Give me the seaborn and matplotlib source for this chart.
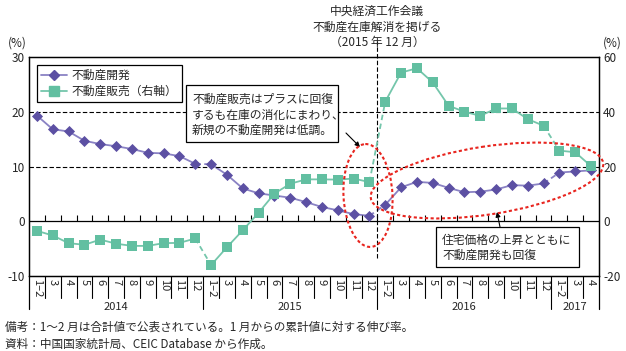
import numpy as np
import pandas as pd
import matplotlib
matplotlib.use("Agg")
import matplotlib.pyplot as plt
import matplotlib.transforms as mtransforms
from matplotlib.patches import Ellipse, Rectangle
from matplotlib.lines import Line2D
import seaborn as sns

# データ
years = ["2014", "2015", "2016", "2017"]
months_full = ["1–2", "3", "4", "5", "6", "7", "8", "9", "10", "11", "12"]
months_2017 = ["1–2", "3", "4"]
labels = months_full * 3 + months_2017
year_of = ["2014"] * 11 + ["2015"] * 11 + ["2016"] * 11 + ["2017"] * 3

dev = [19.3, 16.8, 16.4, 14.7, 14.1, 13.7, 13.2, 12.5, 12.4, 11.9, 10.5,
       10.4, 8.5, 6.0, 5.1, 4.7, 4.3, 3.5, 2.6, 2.0, 1.3, 1.0,
       3.0, 6.2, 7.2, 7.0, 6.1, 5.3, 5.4, 5.8, 6.6, 6.5, 6.9,
       8.9, 9.1, 9.3]
sales = [-3.5, -5.2, -8.0, -8.6, -6.7, -8.2, -9.0, -9.0, -8.0, -7.9, -6.3,
         -16.0, -9.5, -3.3, 3.1, 10.1, 13.7, 15.3, 15.3, 15.2, 15.6, 14.3,
         43.7, 54.3, 55.9, 50.7, 42.2, 40.0, 38.5, 41.2, 41.2, 37.3, 34.9,
         25.8, 25.2, 20.1]

df = pd.DataFrame({"x": np.arange(len(labels)), "year": year_of,
                   "dev": dev, "sales": sales})

# スタイル
sns.set_theme(style="white")
plt.rcParams["font.family"] = ["Noto Sans CJK JP", "DejaVu Sans"]
plt.rcParams["axes.unicode_minus"] = False

W, H = 626, 351
fig = plt.figure(figsize=(W / 100, H / 100), dpi=100)
ax = fig.add_axes([29 / W, 75 / H, 570 / W, 219 / H])
ax2 = ax.twinx()

c_dev_line = "#8a82c4"
c_dev = "#5c50a3"
c_sales_line = "#74c6ab"
c_sales = "#62bfa1"

# 不動産開発（左軸）
sns.lineplot(data=df, x="x", y="dev", units="year", estimator=None,
             color=c_dev_line, lw=1.3, ax=ax, legend=False)
sns.scatterplot(data=df, x="x", y="dev", marker="D", s=32, color=c_dev,
                linewidth=0, ax=ax, legend=False, zorder=3)

# 不動産販売（右軸）
sns.lineplot(data=df, x="x", y="sales", units="year", estimator=None,
             color=c_sales_line, lw=1.3, ax=ax2, legend=False)
sns.scatterplot(data=df, x="x", y="sales", marker="s", s=55, color=c_sales,
                linewidth=0, ax=ax2, legend=False, zorder=3)

# 年の境目は破線でつなぐ
for b in [10, 21, 32]:
    ax.plot([b, b + 1], [dev[b], dev[b + 1]], ls=(0, (3, 2)), color=c_dev_line, lw=1.3)
    ax2.plot([b, b + 1], [sales[b], sales[b + 1]], ls=(0, (3, 2)), color=c_sales_line, lw=1.3)

ax.set_xlim(-0.5, len(labels) - 0.5)
ax.set_ylim(-10, 30)
ax2.set_ylim(-20, 60)
ax.set_yticks([-10, 0, 10, 20, 30])
ax2.set_yticks([-20, 0, 20, 40, 60])
ax.set_xlabel("")
ax.set_ylabel("")
ax2.set_ylabel("")

ax.set_xticks(df["x"])
ax.set_xticklabels(labels, rotation=270, fontsize=8)
ax.tick_params(axis="x", length=0, pad=2)
ax.tick_params(axis="y", length=0, pad=3, labelsize=8.5)
ax2.tick_params(axis="y", length=0, pad=3, labelsize=8.5)

for a in (ax, ax2):
    for s in a.spines.values():
        s.set_color("black")
        s.set_linewidth(0.9)

# 補助線
ax.axhline(0, color="black", lw=0.9)
for yv in (10, 20):
    ax.axhline(yv, color="black", lw=0.8, ls=(0, (4, 2)))
bounds = np.arange(0.5, len(labels) - 0.5, 1)
ax.vlines(bounds, 0, 1.1, color="black", lw=0.8)

# 2015年12月の縦線
ax.vlines(21.5, -6.7, 32.9, color="black", lw=0.8, ls=(0, (4, 2)), clip_on=False)

# 目盛ラベルの表
tx = mtransforms.blended_transform_factory(ax.transData, ax.transAxes)
for b in bounds:
    big = b in (10.5, 21.5, 32.5)
    ax.plot([b, b], [0, -33 / 219 if big else -22 / 219], color="black",
            lw=0.8, transform=tx, clip_on=False)
for xe in (-0.5, len(labels) - 0.5):
    ax.plot([xe, xe], [0, -33 / 219], color="black", lw=0.9,
            transform=tx, clip_on=False)
for yr, xc in zip(years, [5, 16, 27, 34]):
    ax.text(xc, -31 / 219, yr, transform=tx, ha="center", va="center", fontsize=8)

# 単位
fig.text(17 / W, 1 - 43 / H, "(%)", ha="center", va="center", fontsize=8.5)
fig.text(612 / W, 1 - 43 / H, "(%)", ha="center", va="center", fontsize=8.5)

# 凡例
handles = [Line2D([], [], color=c_dev_line, lw=1.3, marker="D", ms=5.5,
                  mfc=c_dev, mec=c_dev),
           Line2D([], [], color=c_sales_line, lw=1.3, marker="s", ms=7,
                  mfc=c_sales, mec=c_sales)]
leg = ax2.legend(handles, ["不動産開発", "不動産販売（右軸）"], loc="upper left",
                 bbox_to_anchor=(8 / 570, 1 - 8 / 219), borderaxespad=0,
                 fancybox=False, framealpha=1, edgecolor="black", fontsize=8.5,
                 handlelength=2.2, handletextpad=0.4, labelspacing=0.25,
                 borderpad=0.35)
leg.get_frame().set_linewidth(0.9)

# 注釈（ピクセル座標）
px = mtransforms.Affine2D().scale(1 / W, -1 / H).translate(0, 1) + fig.transFigure

fig.text(377 / W, 1 - 27 / H,
         "中央経済工作会議\n不動産在庫解消を掲げる\n（2015 年 12 月）",
         ha="center", va="center", fontsize=8.5, linespacing=1.25)

fig.add_artist(Rectangle((186, 85), 152, 57, transform=px, fc="white",
                         ec="black", lw=0.9, zorder=5))
fig.text(192 / W, 1 - 115 / H,
         "不動産販売はプラスに回復\nするも在庫の消化にまわり、\n新規の不動産開発は低調。",
         ha="left", va="center", fontsize=8.5, linespacing=1.25, zorder=6)

fig.add_artist(Rectangle((436, 227), 143, 40, transform=px, fc="white",
                         ec="black", lw=0.9, zorder=5))
fig.text(442 / W, 1 - 248 / H, "住宅価格の上昇とともに\n不動産開発も回復",
         ha="left", va="center", fontsize=8.5, linespacing=1.25, zorder=6)

fig.add_artist(Ellipse((368, 195.5), 49, 103, angle=-3, transform=px,
                       fill=False, ec="#e8251f", lw=1.5, ls=(0, (1.5, 1.2)), zorder=4))
fig.add_artist(Ellipse((487, 180.5), 235, 68, angle=-8.6, transform=px,
                       fill=False, ec="#e8251f", lw=1.5, ls=(0, (1.5, 1.2)), zorder=4))

ax2.annotate("", xy=(360 / W, 1 - 147 / H), xytext=(346 / W, 1 - 133 / H),
             xycoords="figure fraction", textcoords="figure fraction",
             arrowprops=dict(arrowstyle="-|>", color="black", lw=0.8,
                             mutation_scale=7, shrinkA=0, shrinkB=0))
ax2.annotate("", xy=(497 / W, 1 - 212 / H), xytext=(500 / W, 1 - 227 / H),
             xycoords="figure fraction", textcoords="figure fraction",
             arrowprops=dict(arrowstyle="-|>", color="black", lw=0.8,
                             mutation_scale=7, shrinkA=0, shrinkB=0))

# 備考・資料
fig.text(5 / W, 1 - 327 / H,
         "備考：1～2 月は合計値で公表されている。1 月からの累計値に対する伸び率。",
         ha="left", va="center", fontsize=8.4)
fig.text(5 / W, 1 - 344 / H, "資料：中国国家統計局、CEIC Database から作成。",
         ha="left", va="center", fontsize=8.4)

fig.savefig("out.png", dpi=100)
